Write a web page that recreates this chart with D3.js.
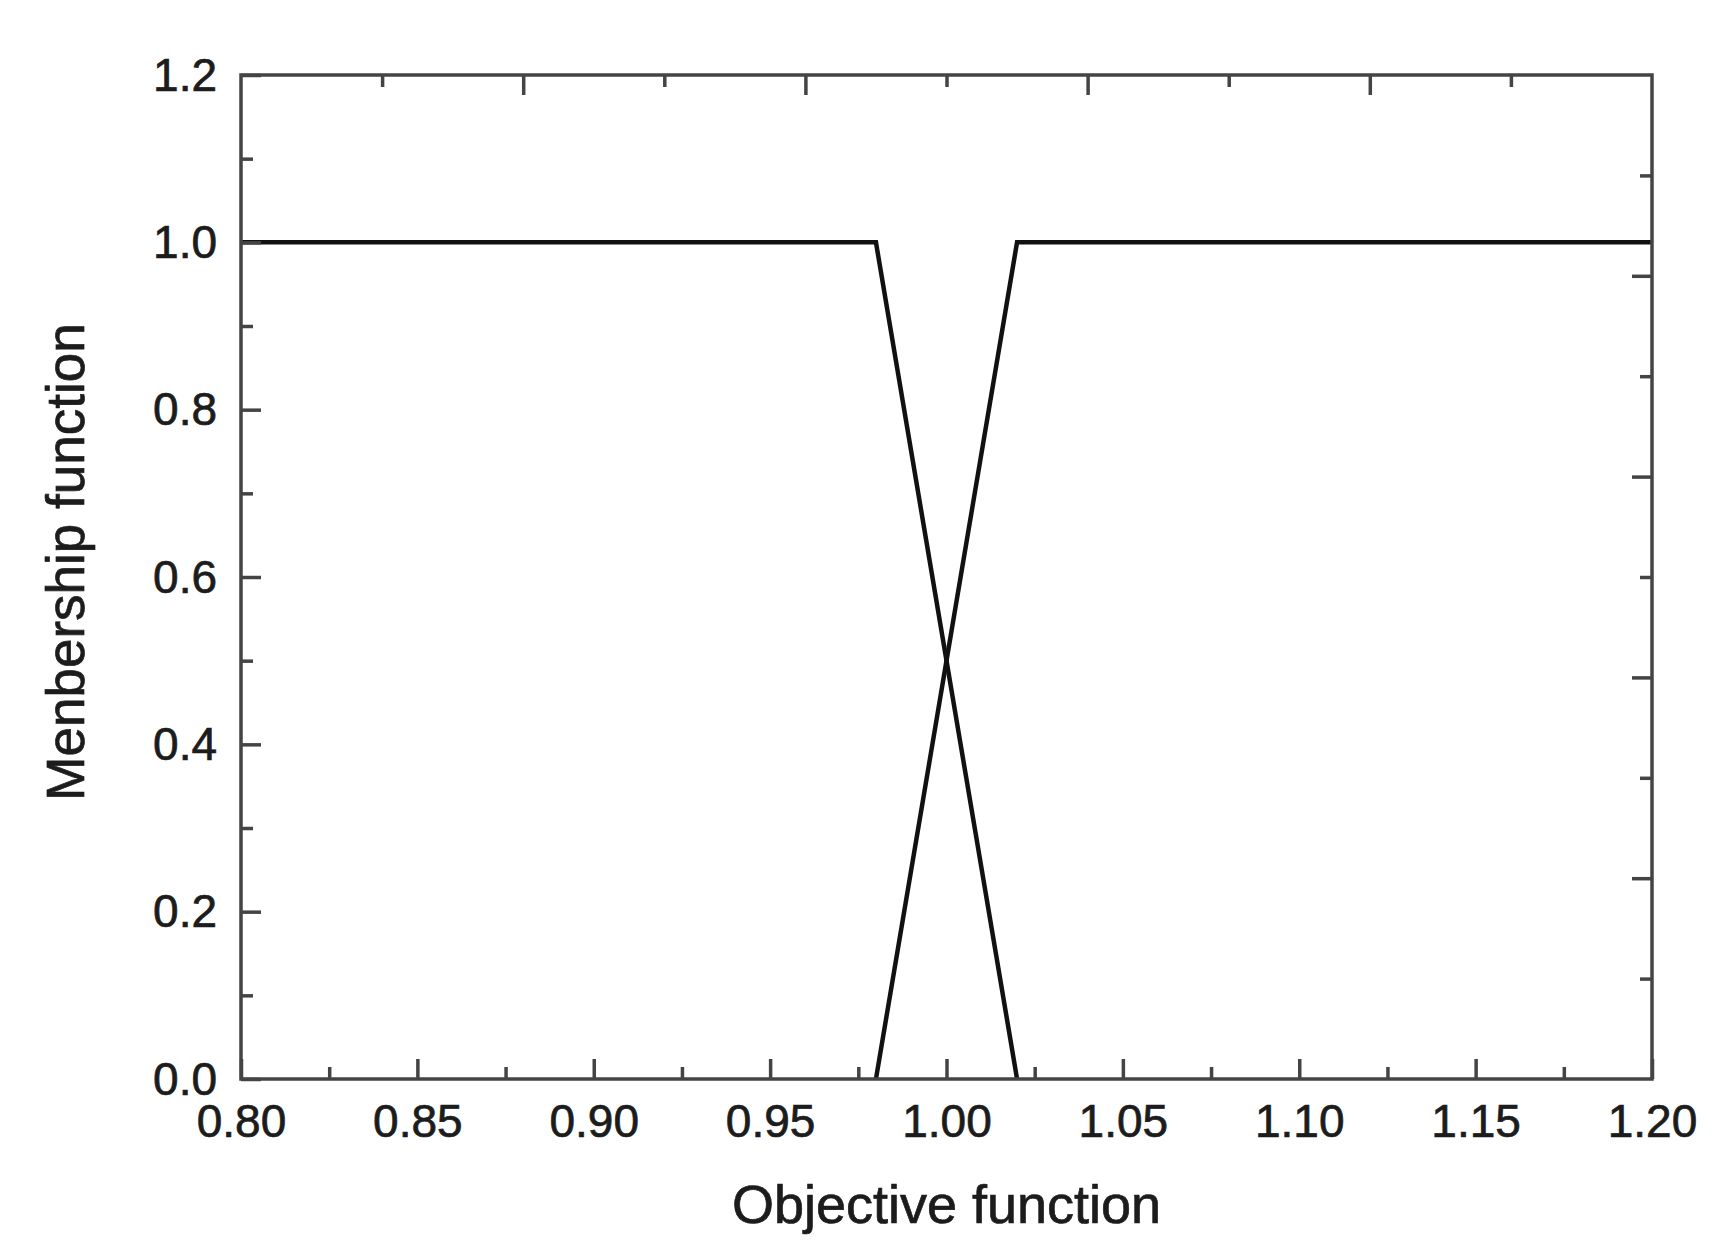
<!DOCTYPE html>
<html>
<head>
<meta charset="utf-8">
<script src="https://cdn.jsdelivr.net/npm/d3@7"></script>
<style>
  html, body { margin: 0; padding: 0; background: #fff; }
  svg { display: block; }
  text { font-family: "Liberation Sans", Arial, Helvetica, sans-serif; fill: #1c1c1c; stroke: #1c1c1c; stroke-width: 0.7px; }
</style>
</head>
<body>
<svg id="chart" width="1719" height="1247"></svg>
<script>
// ---- data ----
const xTicks = [0.80, 0.85, 0.90, 0.95, 1.00, 1.05, 1.10, 1.15, 1.20];
const xMinorTicks = [0.825, 0.875, 0.925, 0.975, 1.025, 1.075, 1.125, 1.175];
const yTicks = [0.0, 0.2, 0.4, 0.6, 0.8, 1.0, 1.2];
const yMinorTicks = [0.1, 0.3, 0.5, 0.7, 0.9, 1.1];
// top / right frame ticks (10 divisions, major on even)
const frameDivisions = [1, 2, 3, 4, 5, 6, 7, 8, 9];

const decreasingX = [0.80, 0.98, 1.02];
const decreasingY = [1.0, 1.0, 0.0];
const increasingX = [0.98, 1.02, 1.20];
const increasingY = [0.0, 1.0, 1.0];

const xLabel = "Objective function";
const yLabel = "Menbership function";

// ---- layout ----
const L = 241, R = 1652, T = 75, B = 1079;
const svg = d3.select("#chart");

const x = d3.scaleLinear().domain([0.80, 1.20]).range([L, R]);
const y = d3.scaleLinear().domain([0.0, 1.2]).range([B, T]);
const xf = d3.scaleLinear().domain([0, 10]).range([L, R]);
const yf = d3.scaleLinear().domain([0, 10]).range([T, B]);

const frameColor = "#444";
const frameWidth = 3.5;
const majorLen = 20, minorLen = 12;

// data lines
const line = d3.line().x(d => x(d[0])).y(d => y(d[1]));
const series = [
  d3.zip(decreasingX, decreasingY),
  d3.zip(increasingX, increasingY)
];
svg.append("g").selectAll("path").data(series).join("path")
  .attr("d", line)
  .attr("fill", "none")
  .attr("stroke", "#111")
  .attr("stroke-width", 4.5)
  .attr("stroke-linejoin", "miter");

// bottom axis
const gB = svg.append("g").attr("transform", `translate(0,${B})`)
  .call(d3.axisBottom(x).tickValues(xTicks).tickSize(-majorLen).tickFormat(d3.format(".2f")));
gB.select(".domain").remove();
gB.selectAll("line").attr("stroke", frameColor).attr("stroke-width", frameWidth);
gB.selectAll("text").attr("y", 58).attr("dy", null).attr("font-size", 46);
svg.append("g").attr("transform", `translate(0,${B})`)
  .call(d3.axisBottom(x).tickValues(xMinorTicks).tickSize(-minorLen).tickFormat(""))
  .call(g => g.select(".domain").remove())
  .selectAll("line").attr("stroke", frameColor).attr("stroke-width", frameWidth);

// left axis
const gL = svg.append("g").attr("transform", `translate(${L},0)`)
  .call(d3.axisLeft(y).tickValues(yTicks).tickSize(-majorLen).tickFormat(d3.format(".1f")));
gL.select(".domain").remove();
gL.selectAll("line").attr("stroke", frameColor).attr("stroke-width", frameWidth);
gL.selectAll("text").attr("x", -24).attr("dy", "0.33em").attr("font-size", 46);
svg.append("g").attr("transform", `translate(${L},0)`)
  .call(d3.axisLeft(y).tickValues(yMinorTicks).tickSize(-minorLen).tickFormat(""))
  .call(g => g.select(".domain").remove())
  .selectAll("line").attr("stroke", frameColor).attr("stroke-width", frameWidth);

// top frame ticks
svg.append("g").attr("transform", `translate(0,${T})`)
  .call(d3.axisTop(xf).tickValues(frameDivisions).tickSize(0).tickFormat(""))
  .call(g => g.select(".domain").remove())
  .selectAll("line")
  .attr("y2", d => d % 2 === 0 ? majorLen : minorLen)
  .attr("stroke", frameColor).attr("stroke-width", frameWidth);

// right frame ticks
svg.append("g").attr("transform", `translate(${R},0)`)
  .call(d3.axisRight(yf).tickValues(frameDivisions).tickSize(0).tickFormat(""))
  .call(g => g.select(".domain").remove())
  .selectAll("line")
  .attr("x2", d => d % 2 === 0 ? -majorLen : -minorLen)
  .attr("stroke", frameColor).attr("stroke-width", frameWidth);

// frame
svg.append("rect")
  .attr("x", L).attr("y", T).attr("width", R - L).attr("height", B - T)
  .attr("fill", "none").attr("stroke", frameColor).attr("stroke-width", frameWidth);

// axis titles
svg.append("text")
  .attr("x", (L + R) / 2).attr("y", 1223)
  .attr("text-anchor", "middle").attr("font-size", 54)
  .text(xLabel);
svg.append("text")
  .attr("transform", `translate(84,562) rotate(-90)`)
  .attr("text-anchor", "middle").attr("font-size", 53)
  .text(yLabel);
</script>
</body>
</html>
